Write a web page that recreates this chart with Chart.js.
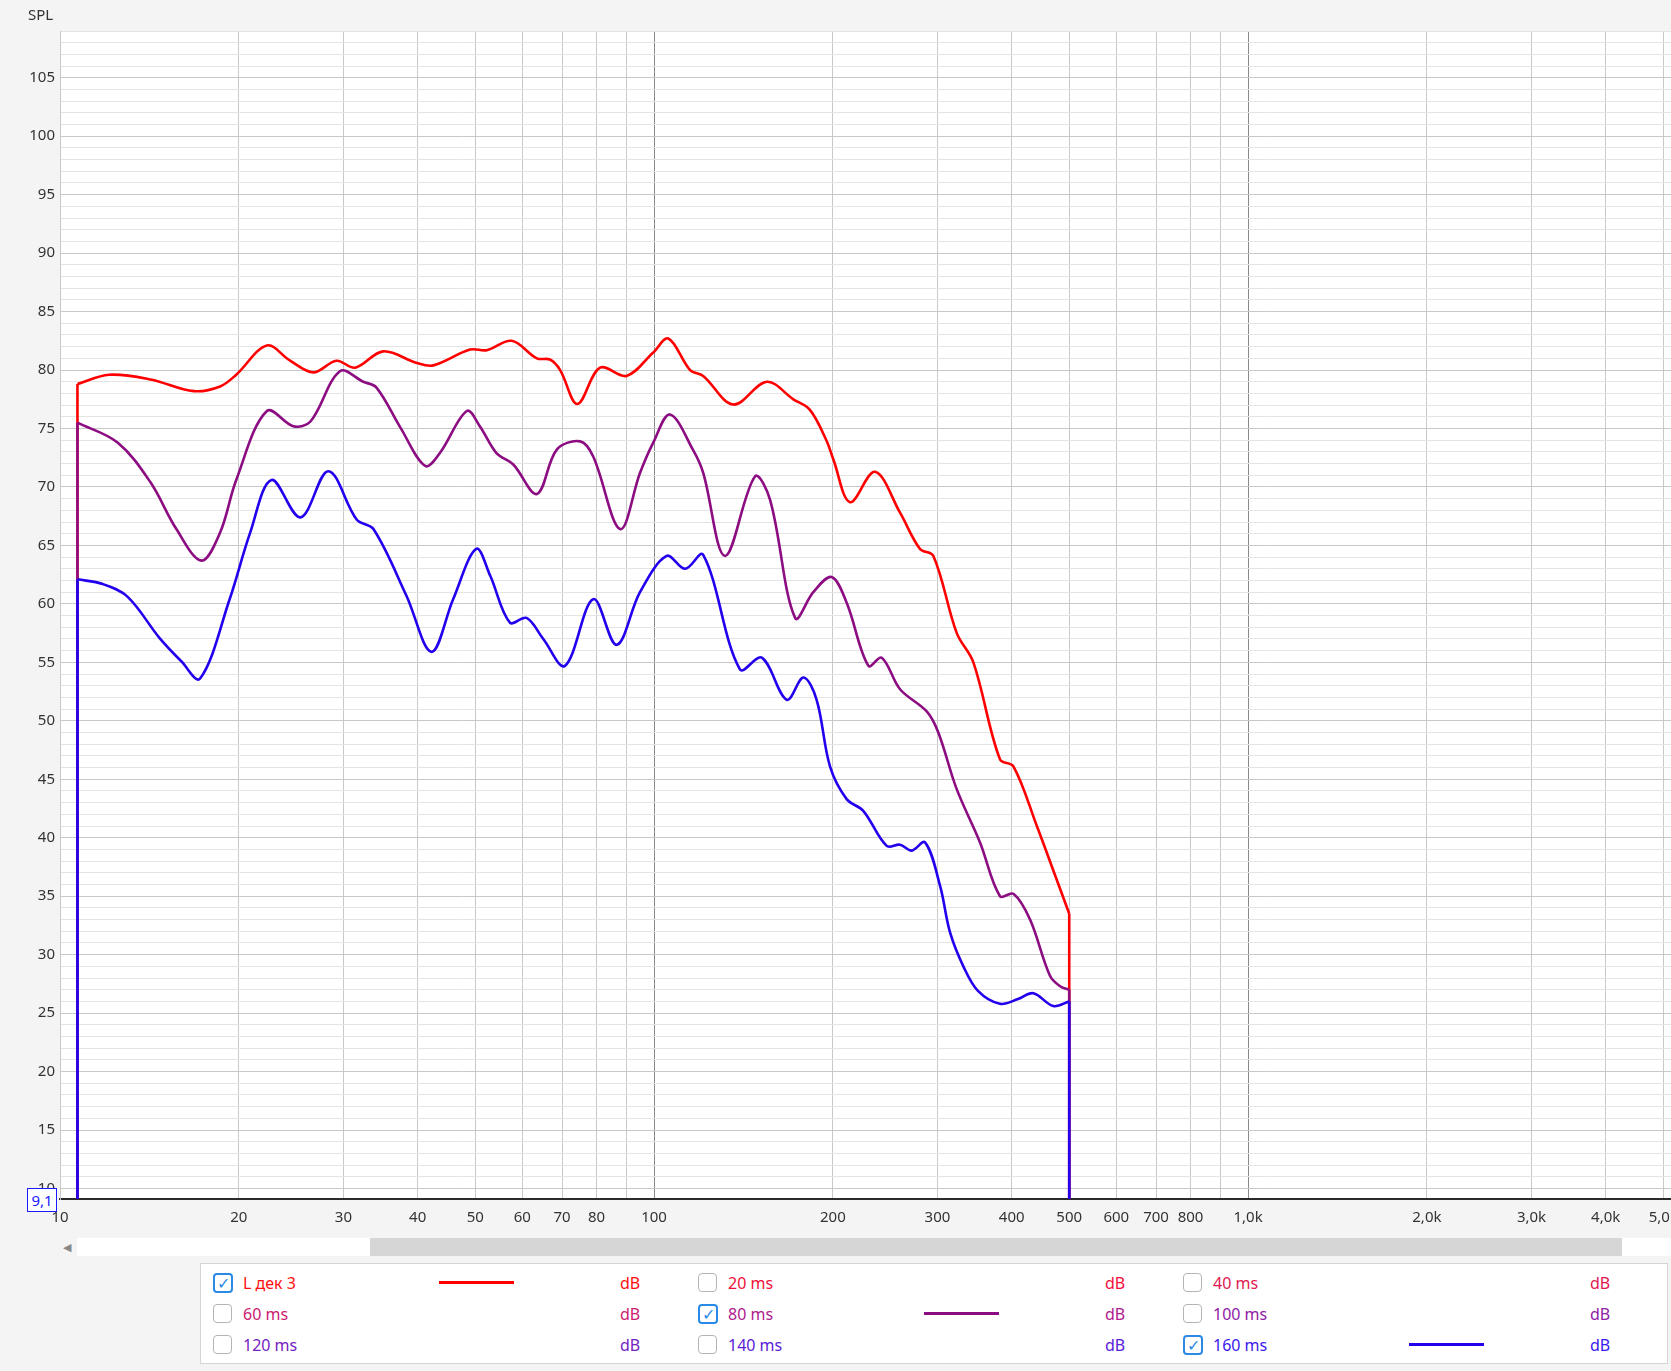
<!DOCTYPE html>
<html>
<head>
<meta charset="utf-8">
<title>SPL</title>
<script src="https://cdn.jsdelivr.net/npm/chart.js@4.4.0/dist/chart.umd.min.js"></script>
<style>
  body {
    margin: 0;
    width: 1671px;
    height: 1371px;
    overflow: hidden;
    position: relative;
    background: #f4f4f4;
    font-family: "Noto Sans", "Open Sans", sans-serif;
    color: #333;
  }
  #spl { position: absolute; left: 0; top: 0; }
  .axisTitle { position: absolute; left: 28px; top: 4px; font-size: 15px; color: #333; }
  .cursorBox {
    position: absolute; left: 27px; top: 1188px; width: 28px; height: 22px;
    border: 1px solid #1a1aff; background: #fff; color: #1a1aff;
    font-size: 15px; line-height: 22px; text-align: center;
  }
  .scrollArrow { position: absolute; left: 63px; top: 1239px; font-size: 11px; color: #888; }
  .scrollTrack { position: absolute; left: 77px; top: 1238px; width: 1594px; height: 18px; background: #fff; }
  .scrollThumb { position: absolute; left: 370px; top: 1238px; width: 1252px; height: 18px; background: #d6d6d6; }
  .legend {
    position: absolute; left: 200px; top: 1263px; width: 1466px; height: 99px;
    border: 1px solid #d4d4d4; background: #fff;
  }
  .item { position: absolute; height: 22px; font-size: 16px; line-height: 22px; white-space: nowrap; }
  .check {
    position: absolute; left: 0; top: 1px; width: 17px; height: 17px;
    border: 1px solid #b4b4b4; border-radius: 4px; background: #fff;
  }
  .check.on {
    width: 16px; height: 16px; border: 2px solid #2a8ae6;
    color: #2a8ae6; font-size: 16px; line-height: 16px; text-align: center;
  }
  .label { position: absolute; left: 30px; top: 0; }
  .sample { position: absolute; left: 226px; top: 9px; width: 75px; height: 3px; }
  .unit { position: absolute; left: 407px; top: 0; }
</style>
</head>
<body>
<canvas id="spl" width="1671" height="1230"></canvas>
<div class="axisTitle">SPL</div>
<div class="cursorBox">9,1</div>
<div class="scrollTrack"></div>
<div class="scrollThumb"></div>
<div class="scrollArrow">&#9664;</div>
<div class="legend" id="legend"></div>

<script>
// L дек 3
var redFreq = [10.7, 12.1, 14.2, 16.8, 18.6, 19.8, 22.3, 24.4, 26.7, 29.2, 31.4, 35.0, 39.9, 42.5, 49.0, 52.3,
  57.6, 63.5, 66.8, 69.5, 74.3, 81.1, 89.9, 99.7, 105.7, 115, 121, 136, 154.8, 171.6, 183, 195, 200.4,
  213.8, 235.5, 259.5, 280.4, 295.3, 323.3, 344.8, 382.3, 402.7, 441, 476, 500];
var redDb = [78.8, 79.6, 79.2, 78.2, 78.6, 79.6, 82.1, 80.8, 79.8, 80.8, 80.2, 81.6, 80.6, 80.4, 81.75, 81.7,
  82.5, 81.0, 80.9, 80.0, 77.1, 80.2, 79.5, 81.5, 82.7, 80.0, 79.5, 77.05, 79.0, 77.5, 76.6, 74.0, 72.35,
  68.7, 71.3, 67.8, 64.7, 64.1, 57.5, 55.0, 46.7, 46.1, 41.0, 36.45, 33.5];

// 80 ms
var purpleFreq = [10.7, 12.5, 14.2, 15.7, 17.3, 18.6, 19.8, 22.3, 24.7, 26.4, 29.6, 32.4, 34.1, 37.4, 41.2,
  43.6, 48.4, 50.9, 54.3, 58.0, 63.5, 68.6, 75.1, 79.0, 87.7, 94.7, 99.7, 106.4, 116.5, 121, 131.7, 147.9,
  156.8, 172.8, 185.4, 199, 211, 229.6, 241.7, 259.5, 287.8, 301, 323, 353.8, 382.3, 402.7, 429.5, 464,
  482.6, 500];
var purpleDb = [75.5, 73.8, 70.4, 66.4, 63.7, 66.1, 70.6, 76.5, 75.2, 75.6, 79.9, 79.0, 78.5, 75.1, 71.8,
  72.9, 76.5, 75.2, 72.9, 71.9, 69.4, 73.2, 73.9, 72.6, 66.4, 71.2, 73.8, 76.2, 73.1, 71.2, 64.1, 70.9,
  68.9, 58.8, 61.0, 62.3, 60.1, 54.7, 55.4, 52.7, 50.8, 49.0, 44.2, 39.6, 35.0, 35.2, 33.0, 28.2,
  27.3, 27.0];

// 160 ms
var blueFreq = [10.7, 11.8, 13.0, 14.7, 16.0, 17.2, 19.3, 20.9, 22.7, 25.4, 28.3, 31.6, 33.7, 38.3, 42.2,
  45.9, 50.2, 53.0, 57.2, 61.0, 65.1, 70.8, 79.0, 86.5, 94.7, 105, 112.8, 121, 139.5, 151.8, 167.3, 178.4,
  187.8, 197.8, 211, 225, 246.4, 259.5, 271.5, 285.9, 303, 315, 331.7, 351, 382, 410, 435, 470, 500];
var blueDb = [62.1, 61.7, 60.6, 57.1, 55.1, 53.6, 60.4, 66.1, 70.6, 67.4, 71.35, 67.2, 66.4, 60.7, 55.9,
  60.4, 64.7, 62.4, 58.4, 58.8, 57.0, 54.7, 60.4, 56.5, 61.0, 64.1, 63.0, 64.2, 54.4, 55.4, 51.8, 53.7,
  51.8, 46.1, 43.3, 42.3, 39.3, 39.4, 38.9, 39.6, 35.9, 31.9, 29.0, 26.9, 25.8, 26.2, 26.7, 25.6, 26.0];

// оси
var yMin = 9.1;
var yMax = 109;
var xMin = 10;
var xMax = 5152;
var xTicks = [10, 20, 30, 40, 50, 60, 70, 80, 90, 100, 200, 300, 400, 500, 600, 700, 800, 900,
  1000, 2000, 3000, 4000, 5000];
var xTickLabels = ["10", "20", "30", "40", "50", "60", "70", "80", "", "100", "200", "300", "400", "500",
  "600", "700", "800", "", "1,0k", "2,0k", "3,0k", "4,0k", "5,0k"];

// легенда
var legendNames = ["L дек 3", "20 ms", "40 ms", "60 ms", "80 ms", "100 ms", "120 ms", "140 ms", "160 ms"];
var legendColors = ["#ff1010", "#f0103a", "#e01850", "#cc2070", "#b0208c", "#9020a4", "#7422c0", "#5a20d8", "#3a18ee"];
var legendChecked = [true, false, false, false, true, false, false, false, true];

var redColor = "#ff0000";
var purpleColor = "#8c0c82";
var blueColor = "#2200ee";

function toPoints(freq, db) {
  var pts = [];
  for (var i = 0; i < freq.length; i++) {
    pts.push({ x: freq[i], y: db[i] });
  }
  return pts;
}

// вертикальные края кривой (от низа до первой и от последней точки вниз)
function edgePoints(freq, db) {
  var last = freq.length - 1;
  return [
    { x: freq[0], y: yMin },
    { x: freq[0], y: db[0] },
    { x: 100, y: null },
    { x: freq[last], y: db[last] },
    { x: freq[last], y: yMin }
  ];
}

function curve(label, freq, db, color, order) {
  return {
    label: label,
    data: toPoints(freq, db),
    borderColor: color,
    borderWidth: 2.6,
    pointRadius: 0,
    tension: 0.35,
    fill: false,
    order: order
  };
}

function edge(freq, db, color, order) {
  return {
    label: "",
    data: edgePoints(freq, db),
    borderColor: color,
    borderWidth: 2.6,
    pointRadius: 0,
    tension: 0,
    spanGaps: false,
    fill: false,
    order: order
  };
}

var plotBackground = {
  id: "plotBackground",
  beforeDraw: function (chart) {
    var a = chart.chartArea;
    var ctx = chart.ctx;
    ctx.save();
    ctx.fillStyle = "#ffffff";
    ctx.fillRect(a.left, a.top, a.right - a.left, a.bottom - a.top);
    ctx.restore();
  }
};

var ctx = document.getElementById("spl").getContext("2d");
var splChart = new Chart(ctx, {
  type: "line",
  data: {
    datasets: [
      curve("160 ms", blueFreq, blueDb, blueColor, 0),
      edge(blueFreq, blueDb, blueColor, 0),
      curve("80 ms", purpleFreq, purpleDb, purpleColor, 1),
      edge(purpleFreq, purpleDb, purpleColor, 1),
      curve("L дек 3", redFreq, redDb, redColor, 2),
      edge(redFreq, redDb, redColor, 2)
    ]
  },
  options: {
    responsive: false,
    animation: false,
    events: [],
    layout: { padding: { top: 31, left: 0, right: 0, bottom: 0 } },
    plugins: {
      legend: { display: false },
      tooltip: { enabled: false }
    },
    scales: {
      x: {
        type: "logarithmic",
        min: xMin,
        max: xMax,
        afterBuildTicks: function (scale) {
          scale.ticks = xTicks.map(function (v) { return { value: v }; });
        },
        afterFit: function (scale) {
          scale.height = 31;
          scale.paddingLeft = 0;
          scale.paddingRight = 0;
        },
        ticks: {
          autoSkip: false,
          maxRotation: 0,
          padding: 10,
          color: "#333",
          font: { family: "Noto Sans", size: 15 },
          callback: function (value) {
            var i = xTicks.indexOf(value);
            return i < 0 ? "" : xTickLabels[i];
          }
        },
        grid: {
          drawTicks: false,
          color: function (c) {
            var v = c.tick ? c.tick.value : 0;
            return (v === 100 || v === 1000) ? "#8a8a8a" : "#c8c8c8";
          },
          lineWidth: 1
        },
        border: { display: true, color: "#2a2a2a", width: 2 }
      },
      y: {
        type: "linear",
        min: yMin,
        max: yMax,
        afterBuildTicks: function (scale) {
          var t = [];
          for (var v = 10; v <= 109; v++) t.push({ value: v });
          scale.ticks = t;
        },
        afterFit: function (scale) {
          scale.width = 60;
          scale.paddingTop = 0;
          scale.paddingBottom = 0;
        },
        ticks: {
          autoSkip: false,
          padding: 5,
          color: "#333",
          font: { family: "Noto Sans", size: 15 },
          callback: function (value) {
            return value % 5 === 0 ? String(value) : "";
          }
        },
        grid: {
          drawTicks: false,
          color: function (c) {
            var v = c.tick ? c.tick.value : 0;
            return v % 5 === 0 ? "#c8c8c8" : "#e4e4e4";
          },
          lineWidth: 1
        },
        border: { display: true, color: "#c8c8c8", width: 1 }
      }
    }
  },
  plugins: [plotBackground]
});

// легенда внизу
var sampleColors = [redColor, "", "", "", purpleColor, "", "", "", blueColor];
var legend = document.getElementById("legend");
legendNames.forEach(function (name, i) {
  var row = Math.floor(i / 3);
  var col = i % 3;
  var item = document.createElement("div");
  item.className = "item";
  item.style.left = (12 + col * 485) + "px";
  item.style.top = (8 + row * 31) + "px";
  item.style.color = legendColors[i];

  var box = document.createElement("div");
  box.className = legendChecked[i] ? "check on" : "check";
  if (legendChecked[i]) box.textContent = "\u2713";
  item.appendChild(box);

  var label = document.createElement("span");
  label.className = "label";
  label.textContent = name;
  item.appendChild(label);

  if (legendChecked[i]) {
    var line = document.createElement("div");
    line.className = "sample";
    line.style.background = sampleColors[i];
    item.appendChild(line);
  }

  var unit = document.createElement("span");
  unit.className = "unit";
  unit.textContent = "dB";
  item.appendChild(unit);

  legend.appendChild(item);
});
</script>
</body>
</html>
